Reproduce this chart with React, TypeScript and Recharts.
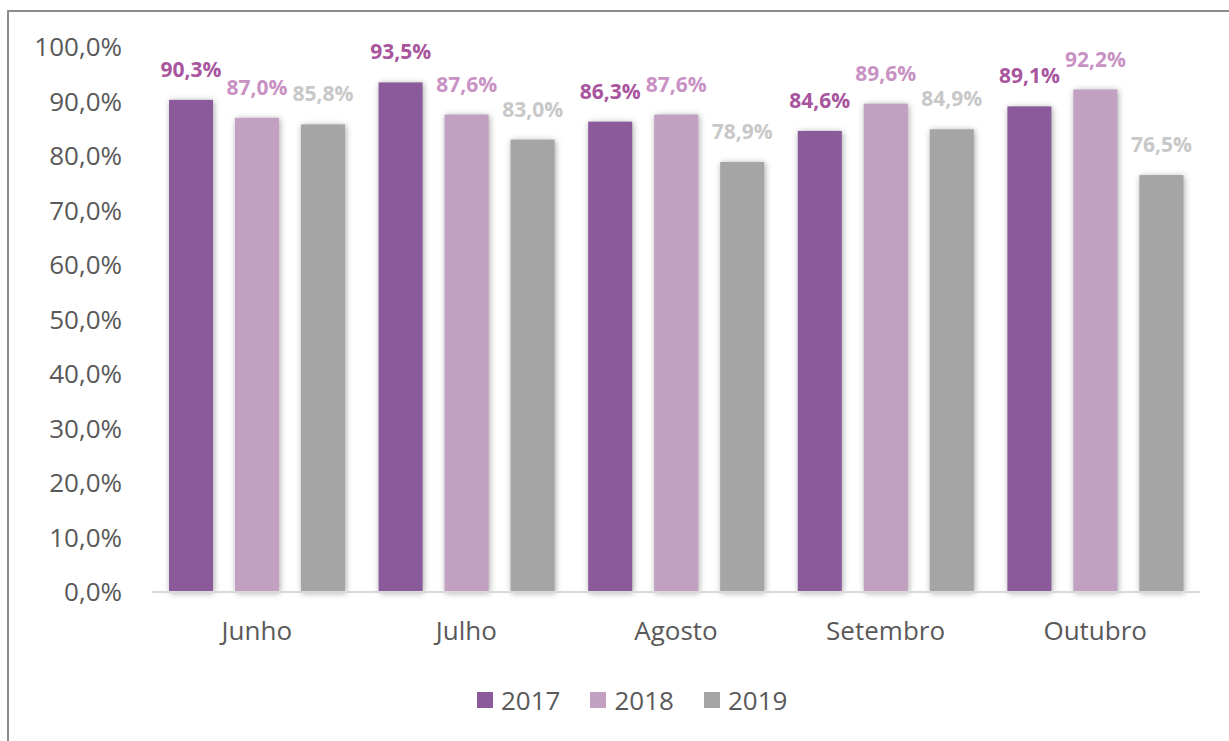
import React from "react";
import { BarChart, Bar, XAxis, YAxis, Legend, LabelList } from "recharts";

const months = ["Junho", "Julho", "Agosto", "Setembro", "Outubro"];
const values2017 = [90.3, 93.5, 86.3, 84.6, 89.1];
const values2018 = [87.0, 87.6, 87.6, 89.6, 92.2];
const values2019 = [85.8, 83.0, 78.9, 84.9, 76.5];
const yTicks = [0, 10, 20, 30, 40, 50, 60, 70, 80, 90, 100];

const SERIES = [
  { key: "y2017", name: "2017", fill: "#8A5A9A", label: "#A8559E" },
  { key: "y2018", name: "2018", fill: "#C1A0C2", label: "#C992C4" },
  { key: "y2019", name: "2019", fill: "#A5A5A5", label: "#C8C8C8" },
];

const FONT = "'Open Sans', 'Noto Sans', sans-serif";

const data = months.map((m, i) => ({
  month: m,
  y2017: values2017[i],
  y2018: values2018[i],
  y2019: values2019[i],
}));

const pct = (v: number) => v.toFixed(1).replace(".", ",") + "%";

function ShadowBar(props: any) {
  const { x, y, width, height, fill } = props;
  return (
    <rect
      x={x}
      y={y}
      width={width}
      height={height}
      fill={fill}
      style={{ filter: "drop-shadow(1px 1px 3px rgba(0,0,0,0.35))" }}
    />
  );
}

function makeLabel(color: string) {
  return (props: any) => {
    const { x, y, width, value } = props;
    return (
      <text
        x={x + width / 2}
        y={y - 23}
        textAnchor="middle"
        fill={color}
        fontSize={21}
        fontWeight="bold"
        fontFamily={FONT}
      >
        {pct(value)}
      </text>
    );
  };
}

function renderLegend() {
  return (
    <div style={{ display: "flex", alignItems: "center", fontFamily: FONT }}>
      {SERIES.map((s) => (
        <div
          key={s.key}
          style={{ display: "flex", alignItems: "center", marginRight: 30 }}
        >
          <span
            style={{
              width: 16,
              height: 16,
              background: s.fill,
              display: "inline-block",
              marginRight: 8,
            }}
          />
          <span style={{ fontSize: 26, color: "#595959", lineHeight: "28px" }}>
            {s.name}
          </span>
        </div>
      ))}
    </div>
  );
}

export default function App() {
  return (
    <div
      style={{
        position: "absolute",
        left: 0,
        top: 0,
        width: 1229,
        height: 741,
        overflow: "hidden",
        background: "#fff",
      }}
    >
      <div
        style={{
          position: "absolute",
          left: 7,
          top: 10,
          width: 1260,
          height: 760,
          borderTop: "2px solid #8C8C8C",
          borderLeft: "2px solid #8C8C8C",
        }}
      />
      <div style={{ position: "absolute", left: 0, top: 0 }}>
        <BarChart
          width={1229}
          height={741}
          data={data}
          margin={{ top: 47, right: 29, left: 0, bottom: 119 }}
          barSize={44}
          barGap={22}
        >
          <XAxis
            dataKey="month"
            axisLine={{ stroke: "#D9D9D9", strokeWidth: 2 }}
            tickLine={false}
            tickSize={0}
            tickMargin={30}
            tick={{ fill: "#595959", fontSize: 26, fontFamily: FONT }}
          />
          <YAxis
            width={152}
            domain={[0, 100]}
            ticks={yTicks}
            tickFormatter={pct}
            axisLine={false}
            tickLine={false}
            tickSize={0}
            tickMargin={30}
            tick={{ fill: "#595959", fontSize: 26, fontFamily: FONT }}
          />
          <Legend
            verticalAlign="middle"
            align="center"
            content={renderLegend}
            wrapperStyle={{ position: "absolute", left: 477, top: 686, width: 400 }}
          />
          {SERIES.map((s) => (
            <Bar
              key={s.key}
              dataKey={s.key}
              name={s.name}
              fill={s.fill}
              shape={ShadowBar}
              isAnimationActive={false}
            >
              <LabelList dataKey={s.key} content={makeLabel(s.label)} />
            </Bar>
          ))}
        </BarChart>
      </div>
    </div>
  );
}
